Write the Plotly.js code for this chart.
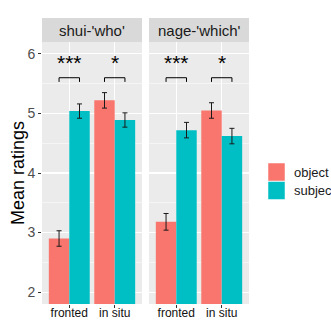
<!DOCTYPE html>
<html><head><meta charset="utf-8">
<script src="https://cdn.plot.ly/plotly-3.0.1.min.js"></script>
<style>html,body{margin:0;padding:0;background:#fff}#c{width:331px;height:322px}</style>
</head><body><div id="c"></div>
<script>
const panels = ["shui-'who'", "nage-'which'"];
const categories = ["fronted", "in situ"];
const groups = ["object", "subject"];
const colors = ["#F8766D", "#00BFC4"];
const yTitle = "Mean ratings";
// panel 1: shui
const shuiObject = [2.90, 5.22];
const shuiObjectErr = [0.13, 0.13];
const shuiSubject = [5.04, 4.89];
const shuiSubjectErr = [0.12, 0.12];
// panel 2: nage
const nageObject = [3.18, 5.05];
const nageObjectErr = [0.14, 0.13];
const nageSubject = [4.72, 4.62];
const nageSubjectErr = [0.13, 0.13];
// significance
const sigLabels = [["***", "*"], ["***", "*"]];
const bracketTop = 5.6, bracketBottom = 5.53, starY = 5.86;

const xpos = [1, 2];
const data = [];
const panelData = [
  [[shuiObject, shuiObjectErr], [shuiSubject, shuiSubjectErr]],
  [[nageObject, nageObjectErr], [nageSubject, nageSubjectErr]]
];
panelData.forEach((pd, p) => {
  const xa = p === 0 ? 'x' : 'x2';
  pd.forEach((s, g) => {
    data.push({type: 'bar', x: xpos, y: s[0], name: groups[g], xaxis: xa, yaxis: 'y',
      marker: {color: colors[g], line: {width: 0}}, showlegend: false,
      error_y: {type: 'data', array: s[1], visible: true, color: '#1a1a1a', thickness: 1, width: 2.5},
      hoverinfo: 'skip'});
  });
  xpos.forEach((c) => {
    data.push({type: 'scatter', mode: 'lines', xaxis: xa, yaxis: 'y',
      x: [c - 0.225, c - 0.225, c + 0.225, c + 0.225],
      y: [bracketBottom, bracketTop, bracketTop, bracketBottom],
      line: {color: '#000', width: 1}, showlegend: false, hoverinfo: 'skip'});
  });
});

const totalW = 331 - 42 - 82;
const dom1 = [0, 100 / totalW];
const dom2 = [107 / totalW, 1];
const yTop = 262 / 286;

const axX = (dom) => ({domain: dom, range: [0.4, 2.6], tickvals: xpos, ticktext: categories,
  showgrid: true, gridcolor: '#fff', gridwidth: 1.1, zeroline: false, ticks: 'outside', ticklen: 3,
  tickcolor: '#333', tickfont: {size: 12, color: '#111', family: 'Liberation Sans, Arial'},
  ticklabelstandoff: -5, fixedrange: true, anchor: 'y'});

const shapes = [], annotations = [];
['x', 'x2'].forEach((xa, p) => {
  shapes.push({type: 'rect', xref: xa + ' domain', yref: 'paper', x0: 0, x1: 1, y0: yTop, y1: 1,
    fillcolor: '#D9D9D9', line: {width: 0}, layer: 'below'});
  annotations.push({xref: xa + ' domain', yref: 'paper', x: 0.5, y: (yTop + 1) / 2, text: panels[p],
    showarrow: false, font: {size: 15, color: '#1a1a1a'}, yanchor: 'middle'});
  xpos.forEach((c, i) => {
    annotations.push({xref: xa, yref: 'y', x: c, y: starY, text: sigLabels[p][i], showarrow: false,
      font: {size: 21, color: '#000'}, yanchor: 'middle'});
  });
});
// y title
annotations.push({xref: 'paper', yref: 'paper', x: (18 - 42) / totalW, y: (304 - 173) / 286,
  text: yTitle, textangle: -90, showarrow: false, xanchor: 'center', yanchor: 'middle',
  font: {size: 18, color: '#000'}});
// legend
groups.forEach((g, i) => {
  const top = 163 + i * 18.5;
  shapes.push({type: 'rect', xref: 'paper', yref: 'paper',
    x0: (268 - 42) / totalW, x1: (285 - 42) / totalW,
    y0: (304 - top - 18) / 286, y1: (304 - top) / 286,
    fillcolor: colors[i], line: {color: '#fff', width: 0.5}});
  annotations.push({xref: 'paper', yref: 'paper', x: (292 - 42) / totalW, y: (304 - top - 9) / 286,
    text: g, showarrow: false, xanchor: 'left', yanchor: 'middle', font: {size: 13, color: '#1a1a1a'}});
});

const layout = {
  width: 331, height: 322, margin: {l: 42, r: 82, t: 18, b: 18},
  paper_bgcolor: '#fff', plot_bgcolor: '#EBEBEB',
  font: {family: 'Liberation Sans, Arial, sans-serif'},
  barmode: 'group', bargap: 0.1, bargroupgap: 0,
  xaxis: axX(dom1), xaxis2: axX(dom2),
  yaxis: {domain: [0, yTop], range: [1.8, 6.2], tickvals: [2, 3, 4, 5, 6], ticks: 'outside', ticklen: 3,
    tickcolor: '#333', tickfont: {size: 14, color: '#4D4D4D'}, showgrid: true, gridcolor: '#fff', gridwidth: 1.1,
    minor: {tickvals: [2.5, 3.5, 4.5, 5.5], showgrid: true, gridcolor: '#fff', gridwidth: 0.5, ticks: ''},
    zeroline: false, fixedrange: true},
  shapes: shapes, annotations: annotations, showlegend: false
};
Plotly.newPlot('c', data, layout, {displayModeBar: false, staticPlot: true});
</script></body></html>
